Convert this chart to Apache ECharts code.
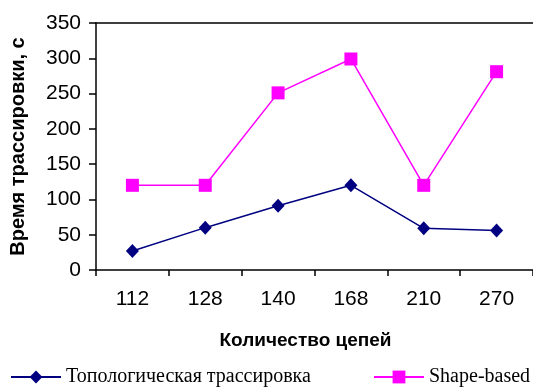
<!DOCTYPE html>
<html>
<head>
<meta charset="utf-8">
<script src="https://cdn.jsdelivr.net/npm/echarts@6/dist/echarts.min.js"></script>
<style>
  html, body { margin: 0; padding: 0; background: #fff; }
  #chart { width: 533px; height: 387px; }
</style>
</head>
<body>
<div id="chart"></div>
<script>
// Number of nets on the x axis
const categories = ['112', '128', '140', '168', '210', '270'];
// Routing time, seconds
const topologicalTimes = [27, 60, 91, 120, 59, 56];
const shapeBasedTimes = [120, 120, 251, 299, 120, 281];
const seriesNames = ['Топологическая трассировка', 'Shape-based'];
const yTicks = { min: 0, max: 350, step: 50 };

const chart = echarts.init(document.getElementById('chart'), null, { renderer: 'canvas' });

const axisFont = { fontFamily: '"Liberation Sans", Arial, sans-serif', fontSize: 21, color: '#000' };
const legendFont = { fontFamily: '"Liberation Serif", "Times New Roman", serif', fontSize: 20, color: '#000' };

chart.setOption({
  animation: false,
  backgroundColor: '#fff',
  grid: { left: 96, top: 23, width: 440, height: 247, containLabel: false },
  legend: [
    {
      left: 5, top: 362, itemWidth: 50, itemHeight: 16, itemGap: 0,
      textStyle: legendFont, data: [seriesNames[0]]
    },
    {
      left: 368, top: 362, itemWidth: 50, itemHeight: 16, itemGap: 0,
      textStyle: legendFont, data: [seriesNames[1]]
    }
  ],
  xAxis: [
    {
      type: 'category',
      data: categories,
      boundaryGap: true,
      name: 'Количество цепей',
      nameLocation: 'middle',
      nameGap: 61,
      nameTextStyle: {
        fontFamily: '"Liberation Sans", Arial, sans-serif',
        fontSize: 19, fontWeight: 'bold', color: '#000',
        padding: [0, 18, 0, 0]
      },
      axisLine: { show: true, lineStyle: { color: '#000', width: 1.5 } },
      axisTick: { show: true, alignWithLabel: false, length: 6, lineStyle: { color: '#000', width: 1.5 } },
      axisLabel: Object.assign({ margin: 19 }, axisFont),
      splitLine: { show: false }
    },
    {
      type: 'category',
      data: categories,
      position: 'top',
      axisLine: { show: true, lineStyle: { color: '#000', width: 1.5 } },
      axisTick: { show: false },
      axisLabel: { show: false },
      splitLine: { show: false }
    }
  ],
  yAxis: {
    type: 'value',
    min: yTicks.min,
    max: yTicks.max,
    interval: yTicks.step,
    name: 'Время трассировки, с',
    nameLocation: 'middle',
    nameGap: 68,
    nameTextStyle: {
      fontFamily: '"Liberation Sans", Arial, sans-serif',
      fontSize: 20, fontWeight: 'bold', color: '#000'
    },
    axisLine: { show: true, lineStyle: { color: '#000', width: 1.5 } },
    axisTick: { show: true, length: 7, lineStyle: { color: '#000', width: 1.5 } },
    axisLabel: Object.assign({ margin: 15 }, axisFont),
    splitLine: { show: false }
  },
  series: [
    {
      name: seriesNames[0],
      type: 'line',
      data: topologicalTimes,
      symbol: 'diamond',
      symbolSize: [13, 14],
      color: '#000080',
      lineStyle: { color: '#000080', width: 1.5 },
      itemStyle: { color: '#000080' }
    },
    {
      name: seriesNames[1],
      type: 'line',
      data: shapeBasedTimes,
      symbol: 'rect',
      symbolSize: 13,
      color: '#FF00FF',
      lineStyle: { color: '#FF00FF', width: 1.5 },
      itemStyle: { color: '#FF00FF' }
    }
  ]
});
</script>
</body>
</html>
